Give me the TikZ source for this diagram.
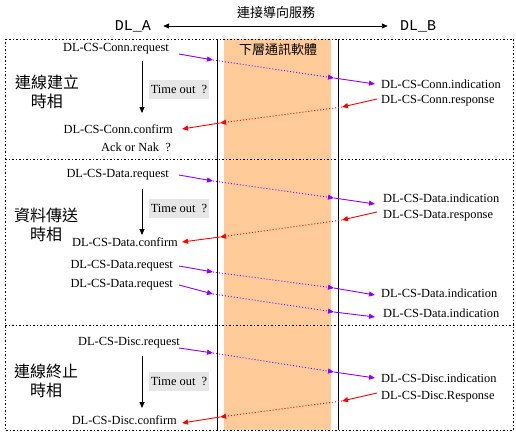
\documentclass[tikz,border=0pt]{standalone}
\usepackage{fontspec}
\usetikzlibrary{arrows.meta}
\setmainfont{Liberation Serif}
\newfontfamily\cjk{Noto Sans CJK TC}
\newfontfamily\dlfont{Liberation Mono}
\definecolor{band}{RGB}{255,204,153}
\definecolor{prim}{RGB}{140,0,255}
\definecolor{boxgray}{RGB}{230,230,230}
\tikzstyle{prim msg}=[
        inner sep = 0pt,
        font = \fontsize{12.4}{14}\selectfont
    ]
\tikzstyle{phase}=[
    inner sep = 0pt,
    align = center,
    font = \cjk\fontsize{16}{19}\selectfont
]
\tikzstyle{timeout}=[
    fill = boxgray,
    minimum width = 60pt,
    minimum height = 19pt,
    inner sep = 0pt,
    font = \fontsize{12.4}{14}\selectfont
]
\tikzstyle{tip}=[-{Triangle[length=6pt,width=5pt]}]
\tikzstyle{go}=[prim, line width=0.9pt, tip]
\tikzstyle{go dot}=[prim, line width=0.9pt, dash pattern=on 1pt off 2pt, tip]
\tikzstyle{back}=[red, line width=0.9pt, tip]
\tikzstyle{back dot}=[red, line width=0.9pt, dash pattern=on 1pt off 2pt, tip]
\tikzstyle{frame}=[line width=0.8pt, dash pattern=on 1.5pt off 2pt]

\begin{document}
\begin{tikzpicture}[x=1pt, y=-1pt]
        \useasboundingbox (0,0) rectangle (516,436);

        % lower layer
        \fill[band] (224,39) rectangle (331,430);
        \draw[frame] (5,39) rectangle (513,430);
        \draw[frame] (5,159) -- (513,159);
        \draw[frame] (5,325) -- (513,325);
        \draw[line width=0.9pt] (217,39) -- (217,430);
        \draw[line width=0.9pt] (338,39) -- (338,430);
        \node[inner sep=0pt, font=\cjk\fontsize{13}{15}\selectfont] (layer) at (278,50) {下層通訊軟體};

        % header
        \node[inner sep=0pt, font=\cjk\fontsize{13}{15}\selectfont] (title) at (276,13) {連接導向服務};
        \node[inner sep=0pt, font=\dlfont\fontsize{15}{17}\selectfont] (A) at (133,26) {DL\_A};
        \node[inner sep=0pt, font=\dlfont\fontsize{15}{17}\selectfont] (B) at (418,26) {DL\_B};
        \draw[line width=0.9pt, {Triangle[length=6pt,width=5pt]}-{Triangle[length=6pt,width=5pt]}] ([xshift=12pt]A.east) -- ([xshift=-12pt]B.west);

        % connect phase
        \node[phase] (p1) at (47,92) {連線建立\\時相};
        \node[prim msg, anchor=east] (1) at (169,49) {DL-CS-Conn.request};
        \node[prim msg, anchor=west] (2) at (381,84) {DL-CS-Conn.indication};
        \node[prim msg, anchor=west] (3) at (381,101) {DL-CS-Conn.response};
        \node[prim msg, anchor=east] (4) at (173,129) {DL-CS-Conn.confirm};
        \node[prim msg] (5) at (136,147) {Ack or Nak\ \ ?};
        \node[timeout] (t1) at (179,89) {Time out\ \ ?};
        \coordinate (1a) at (179,54);
        \coordinate (1b) at (213,60);
        \coordinate (1c) at (334,78);
        \coordinate (1d) at (375,84);
        \coordinate (3a) at (377,99);
        \coordinate (3b) at (342,107);
        \coordinate (3c) at (220,123);
        \coordinate (3d) at (182,129);
        \draw[go] (1a) -- (1b);
        \draw[go dot] (1b) -- (1c);
        \draw[go] (1c) -- (1d);
        \draw[back] (3a) -- (3b);
        \draw[back dot] (3b) -- (3c);
        \draw[back] (3c) -- (3d);
        \draw[line width=0.9pt, tip] (142,61) -- (142,113);

        % data phase
        \node[phase] (p2) at (46,225) {資料傳送\\時相};
        \node[prim msg, anchor=east] (6) at (169,175) {DL-CS-Data.request};
        \node[prim msg, anchor=west] (7) at (383,198) {DL-CS-Data.indication};
        \node[prim msg, anchor=west] (8) at (383,216) {DL-CS-Data.response};
        \node[prim msg, anchor=east] (9) at (178,242) {DL-CS-Data.confirm};
        \node[prim msg, anchor=east] (10) at (173,266) {DL-CS-Data.request};
        \node[prim msg, anchor=east] (11) at (173,285) {DL-CS-Data.request};
        \node[prim msg, anchor=west] (12) at (381,293) {DL-CS-Data.indication};
        \node[prim msg, anchor=west] (13) at (383,313) {DL-CS-Data.indication};
        \node[timeout] (t2) at (179,208) {Time out\ \ ?};
        \coordinate (6a) at (179,175);
        \coordinate (6b) at (213,181);
        \coordinate (6c) at (334,198);
        \coordinate (6d) at (375,204);
        \coordinate (8a) at (377,212);
        \coordinate (8b) at (342,220);
        \coordinate (8c) at (220,237);
        \coordinate (8d) at (182,242);
        \coordinate (10a) at (179,266);
        \coordinate (10b) at (213,272);
        \coordinate (10c) at (334,288);
        \coordinate (10d) at (375,295);
        \coordinate (11a) at (179,285);
        \coordinate (11b) at (213,294);
        \coordinate (11c) at (334,312);
        \coordinate (11d) at (375,317);
        \draw[go] (6a) -- (6b);
        \draw[go dot] (6b) -- (6c);
        \draw[go] (6c) -- (6d);
        \draw[back] (8a) -- (8b);
        \draw[back dot] (8b) -- (8c);
        \draw[back] (8c) -- (8d);
        \draw[go] (10a) -- (10b);
        \draw[go dot] (10b) -- (10c);
        \draw[go] (10c) -- (10d);
        \draw[go] (11a) -- (11b);
        \draw[go dot] (11b) -- (11c);
        \draw[go] (11c) -- (11d);
        \draw[line width=0.9pt, tip] (142,189) -- (142,235);

        % disconnect phase
        \node[phase] (p3) at (46,381) {連線終止\\時相};
        \node[prim msg, anchor=east] (14) at (180,343) {DL-CS-Disc.request};
        \node[prim msg, anchor=west] (15) at (381,378) {DL-CS-Disc.indication};
        \node[prim msg, anchor=west] (16) at (381,397) {DL-CS-Disc.Response};
        \node[prim msg, anchor=east] (17) at (177,420) {DL-CS-Disc.confirm};
        \node[timeout] (t3) at (179,381) {Time out\ \ ?};
        \coordinate (14a) at (179,348);
        \coordinate (14b) at (213,353);
        \coordinate (14c) at (334,372);
        \coordinate (14d) at (375,378);
        \coordinate (16a) at (377,393);
        \coordinate (16b) at (342,401);
        \coordinate (16c) at (220,417);
        \coordinate (16d) at (182,423);
        \draw[go] (14a) -- (14b);
        \draw[go dot] (14b) -- (14c);
        \draw[go] (14c) -- (14d);
        \draw[back] (16a) -- (16b);
        \draw[back dot] (16b) -- (16c);
        \draw[back] (16c) -- (16d);
        \draw[line width=0.9pt, tip] (142,356) -- (142,408);

    \end{tikzpicture}
\end{document}
